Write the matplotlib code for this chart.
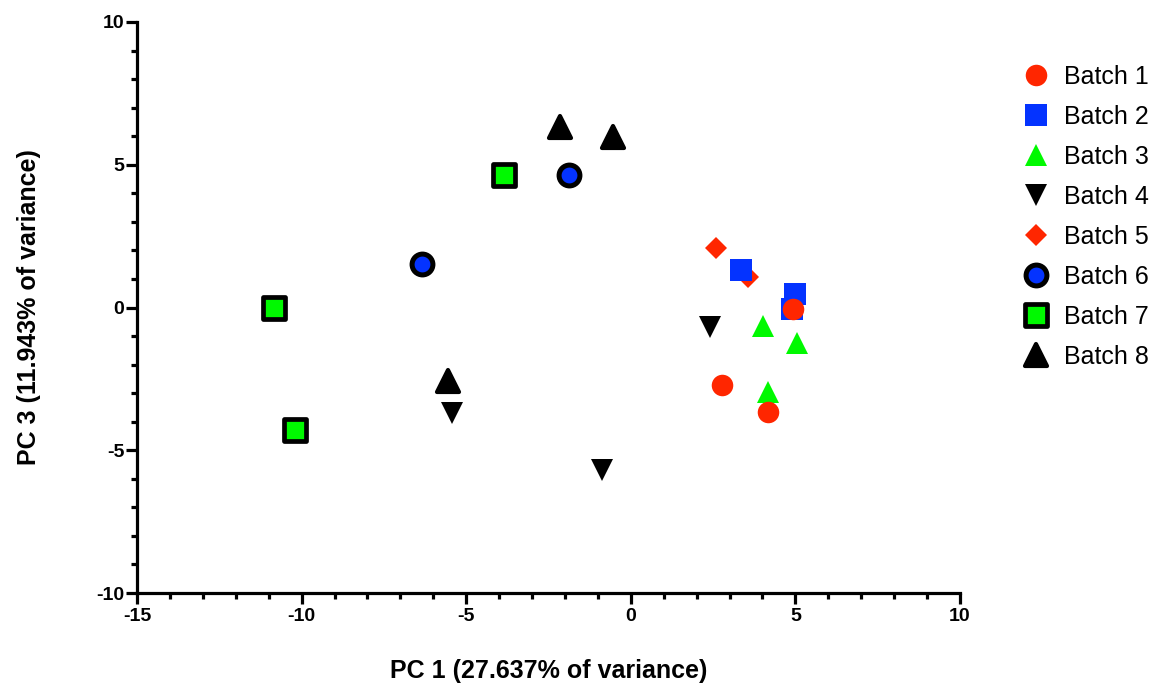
import matplotlib
matplotlib.use('Agg')
import matplotlib.pyplot as plt
import matplotlib.ticker as mtick
from matplotlib.markers import MarkerStyle

plt.rcParams['font.family'] = ['Liberation Sans', 'DejaVu Sans']
plt.rcParams['axes.unicode_minus'] = False

# PCA scores (PC 1, PC 3)
batch_names = ['Batch 1', 'Batch 2', 'Batch 3', 'Batch 4',
               'Batch 5', 'Batch 6', 'Batch 7', 'Batch 8']

b1_x = [4.92, 2.77, 4.18]
b1_y = [-0.05, -2.71, -3.66]
b2_x = [3.35, 4.99, 4.90]
b2_y = [1.31, 0.48, -0.04]
b3_x = [4.02, 5.06, 4.18]
b3_y = [-0.65, -1.25, -2.95]
b4_x = [2.41, -5.42, -0.87]
b4_y = [-0.69, -3.71, -5.69]
b5_x = [2.60, 3.57]
b5_y = [2.09, 1.08]
b6_x = [-1.89, -6.35]
b6_y = [4.63, 1.52]
b7_x = [-3.86, -10.85, -10.20]
b7_y = [4.64, 0.00, -4.30]
b8_x = [-2.14, -0.53, -5.54]
b8_y = [6.33, 5.96, -2.57]

xs = [b1_x, b2_x, b3_x, b4_x, b5_x, b6_x, b7_x, b8_x]
ys = [b1_y, b2_y, b3_y, b4_y, b5_y, b6_y, b7_y, b8_y]

red = '#FF2600'
blue = '#0433FF'
green = '#00F900'

styles = [
    dict(marker='o', ms=15.5, mfc=red, mec=red, mew=0),
    dict(marker='s', ms=15.8, mfc=blue, mec=blue, mew=0),
    dict(marker='^', ms=15.5, mfc=green, mec=green, mew=0),
    dict(marker='v', ms=15.5, mfc='black', mec='black', mew=0),
    dict(marker='D', ms=11, mfc=red, mec=red, mew=0),
    dict(marker='o', ms=15, mfc=blue, mec='black', mew=3.6),
    dict(marker='s', ms=15.8, mfc=green, mec='black', mew=3.4),
    dict(marker='^', ms=15.5, mfc='black', mec='black', mew=3.0),
]

fig = plt.figure(figsize=(11.57, 6.86), dpi=100)
ax = fig.add_axes([137 / 1157, 1 - 593 / 686, 823 / 1157, 571 / 686])

handles = []
for i, (name, x, y, st) in enumerate(zip(batch_names, xs, ys, styles)):
    # later batches sit underneath the earlier ones
    h, = ax.plot(x, y, linestyle='none', label=name, clip_on=False,
                 zorder=10 - i,
                 marker=MarkerStyle(st['marker'], joinstyle='round'),
                 markeredgecolor=st['mec'], markerfacecolor=st['mfc'],
                 markersize=st['ms'], markeredgewidth=st['mew'])
    handles.append(h)

ax.set_xlim(-15, 10)
ax.set_ylim(-10, 10)
ax.xaxis.set_major_locator(mtick.MultipleLocator(5))
ax.xaxis.set_minor_locator(mtick.MultipleLocator(1))
ax.yaxis.set_major_locator(mtick.MultipleLocator(5))
ax.yaxis.set_minor_locator(mtick.MultipleLocator(1))

for s in ['top', 'right']:
    ax.spines[s].set_visible(False)
for s in ['left', 'bottom']:
    ax.spines[s].set_linewidth(2.3)

ax.tick_params(which='major', length=8, width=2.3, labelsize=14)
ax.tick_params(which='minor', length=4.5, width=2.3)
ax.tick_params(axis='x', which='major', pad=3)
ax.tick_params(axis='y', which='major', pad=1)
for lab in ax.get_xticklabels() + ax.get_yticklabels():
    lab.set_fontweight('bold')

ax.set_xlabel('PC 1 (27.637% of variance)', fontsize=18, fontweight='bold',
              labelpad=24)
ax.set_ylabel('PC 3 (11.943% of variance)', fontsize=18, fontweight='bold',
              labelpad=40)

leg = fig.legend(handles=handles, loc='upper left',
                 bbox_to_anchor=(1008 / 1157, 1 - 52 / 686),
                 frameon=False, fontsize=18, labelspacing=0.64,
                 handletextpad=0.55, handlelength=1.2, borderpad=0,
                 numpoints=1)

fig.savefig('out.png', dpi=100)
